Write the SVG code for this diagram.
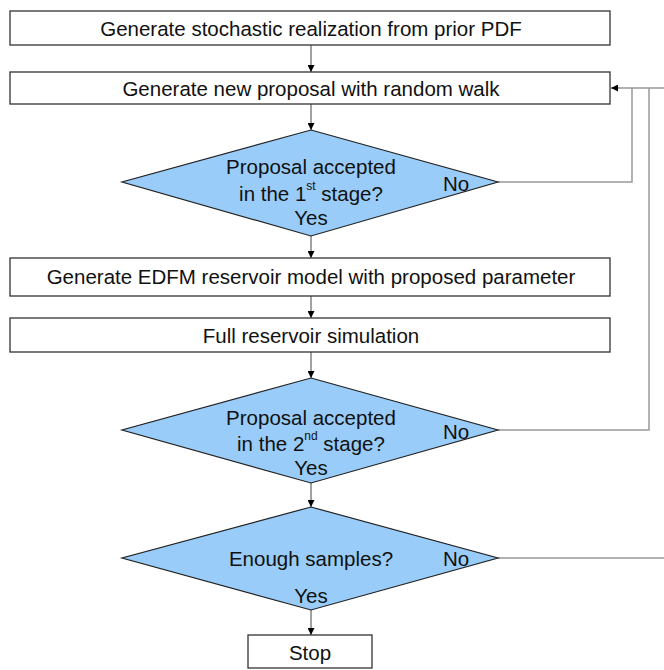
<svg xmlns="http://www.w3.org/2000/svg" width="664" height="670" viewBox="0 0 664 670">
<defs>
<marker id="ah" viewBox="0 0 10 10" refX="10" refY="5" markerWidth="7" markerHeight="7" orient="auto" markerUnits="userSpaceOnUse">
<path d="M0,0 L10,5 L0,10 z" fill="#000"/>
</marker>
<style>
.box{fill:#fff;stroke:#333;stroke-width:1.3}
.dia{fill:#99CCF8;stroke:#222;stroke-width:1.2}
.t{font-family:"Liberation Sans",Arial,sans-serif;font-size:20.5px;fill:#111;text-anchor:middle;dominant-baseline:central}
.sup{font-size:12px}
.c{fill:none;stroke:#444;stroke-width:1}
.fb{fill:none;stroke:#999;stroke-width:1.5}
</style>
</defs>
<rect width="664" height="670" fill="#fff"/>
<g id="connectors">
<line class="c" x1="311" y1="45" x2="311" y2="72" marker-end="url(#ah)"/>
<line class="c" x1="311" y1="104" x2="311" y2="130" marker-end="url(#ah)"/>
<line class="c" x1="311" y1="236" x2="311" y2="258" marker-end="url(#ah)"/>
<line class="c" x1="311" y1="296" x2="311" y2="318" marker-end="url(#ah)"/>
<line class="c" x1="311" y1="352" x2="311" y2="378" marker-end="url(#ah)"/>
<line class="c" x1="311" y1="483" x2="311" y2="507" marker-end="url(#ah)"/>
<line class="c" x1="311" y1="610" x2="311" y2="635" marker-end="url(#ah)"/>
<polyline class="fb" points="498,182 632,182 632,88"/>
<polyline class="fb" points="498,430 649,430 649,88"/>
<line class="fb" x1="498" y1="558" x2="664" y2="558"/>
<line class="fb" x1="664" y1="88" x2="620" y2="88"/>
<line class="c" x1="620" y1="88" x2="611" y2="88" marker-end="url(#ah)"/>
</g>
<g id="n1">
<rect class="box" x="10" y="11" width="600" height="34"/>
<text class="t" x="311" y="28">Generate stochastic realization from prior PDF</text>
</g>
<g id="n2">
<rect class="box" x="10" y="72" width="600" height="32"/>
<text class="t" x="311" y="88">Generate new proposal with random walk</text>
</g>
<g id="d1">
<polygon class="dia" points="311,130 498,182 311,236 122,182"/>
<text class="t" x="311" y="166">Proposal accepted</text>
<text class="t" x="311" y="193">in the 1<tspan class="sup" dy="-7">st</tspan><tspan dy="7"> stage?</tspan></text>
<text class="t" x="311" y="217">Yes</text>
<text class="t" x="456" y="183">No</text>
</g>
<g id="n3">
<rect class="box" x="10" y="258" width="600" height="38"/>
<text class="t" x="311" y="276">Generate EDFM reservoir model with proposed parameter</text>
</g>
<g id="n4">
<rect class="box" x="10" y="318" width="600" height="34"/>
<text class="t" x="311" y="335">Full reservoir simulation</text>
</g>
<g id="d2">
<polygon class="dia" points="311,378 498,430 311,483 122,430"/>
<text class="t" x="311" y="417">Proposal accepted</text>
<text class="t" x="311" y="443">in the 2<tspan class="sup" dy="-7">nd</tspan><tspan dy="7"> stage?</tspan></text>
<text class="t" x="311" y="467">Yes</text>
<text class="t" x="456" y="431">No</text>
</g>
<g id="d3">
<polygon class="dia" points="311,507 498,558 311,610 122,558"/>
<text class="t" x="311" y="558">Enough samples?</text>
<text class="t" x="311" y="595">Yes</text>
<text class="t" x="456" y="558">No</text>
</g>
<g id="stop">
<rect class="box" x="248" y="635" width="124" height="33"/>
<text class="t" x="310" y="652">Stop</text>
</g>
</svg>
